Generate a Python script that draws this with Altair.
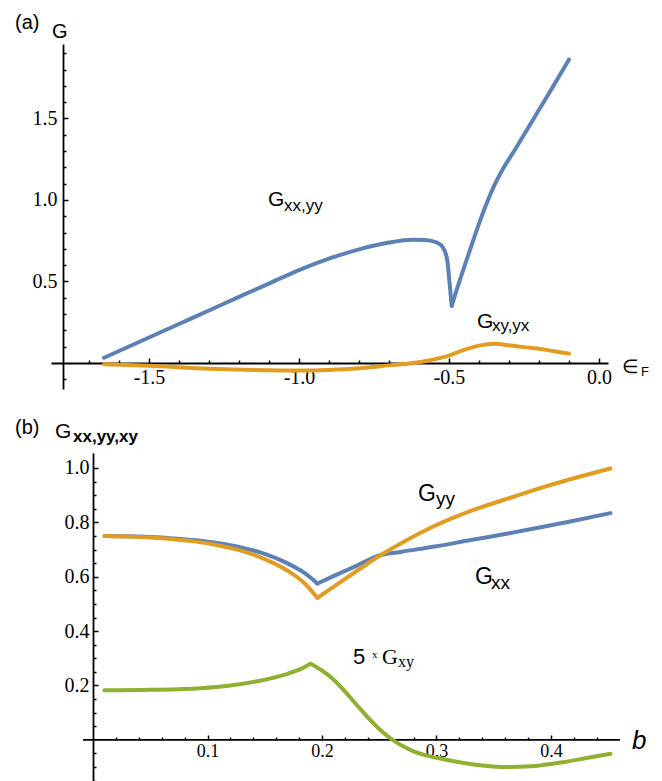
import altair as alt
import pandas as pd

# ---------------- panel (a) data ----------------
a_blue_x = [-1.65, -1.5, -1.4, -1.3, -1.2, -1.1, -1.0, -0.9, -0.8, -0.7, -0.62, -0.58, -0.545, -0.525,
            -0.515, -0.505, -0.498, -0.491, -0.475, -0.46, -0.437, -0.415, -0.393, -0.37, -0.35, -0.33,
            -0.31, -0.283, -0.24, -0.203, -0.15, -0.1]
a_blue_y = [0.032, 0.156, 0.239, 0.322, 0.405, 0.487, 0.570, 0.640, 0.697, 0.739, 0.756, 0.755, 0.742, 0.72,
            0.69, 0.62, 0.49, 0.35, 0.445, 0.53, 0.655, 0.775, 0.89, 1.0, 1.085, 1.158,
            1.222, 1.30, 1.431, 1.544, 1.706, 1.862]
a_blue_kink = -0.491
a_orange_x = [-1.65, -1.5, -1.3, -1.1, -1.0, -0.9, -0.8, -0.7, -0.6, -0.55, -0.5, -0.45, -0.4, -0.35,
              -0.3, -0.25, -0.2, -0.15, -0.1]
a_orange_y = [-0.008, -0.018, -0.035, -0.045, -0.047, -0.043, -0.033, -0.015, 0.004, 0.022, 0.045, 0.08,
              0.106, 0.118, 0.108, 0.097, 0.087, 0.072, 0.057]
a_x_major = [-1.5, -1.0, -0.5, 0.0]
a_x_minor = [-1.7, -1.6, -1.4, -1.3, -1.2, -1.1, -0.9, -0.8, -0.7, -0.6, -0.4, -0.3, -0.2, -0.1]
a_y_major = [0.5, 1.0, 1.5]
a_y_minor = [-0.1, 0.1, 0.2, 0.3, 0.4, 0.6, 0.7, 0.8, 0.9, 1.1, 1.2, 1.3, 1.4, 1.6, 1.7, 1.8, 1.9]

# ---------------- panel (b) data ----------------
b_x = [0.01, 0.03, 0.05, 0.07, 0.09, 0.11, 0.13, 0.15, 0.17, 0.185, 0.196, 0.21, 0.23, 0.25, 0.27,
       0.30, 0.33, 0.36, 0.39, 0.42, 0.452]
b_gxx = [0.75, 0.749, 0.746, 0.741, 0.734, 0.723, 0.707, 0.684, 0.649, 0.613, 0.575, 0.602, 0.640, 0.678,
         0.692, 0.712, 0.735, 0.757, 0.781, 0.806, 0.834]
b_gyy = [0.75, 0.748, 0.744, 0.738, 0.729, 0.715, 0.695, 0.665, 0.622, 0.575, 0.522, 0.563, 0.620, 0.676,
         0.725, 0.790, 0.842, 0.884, 0.925, 0.962, 0.998]
b_kink = 0.196
b_gxy_x = [0.01, 0.05, 0.094, 0.12, 0.153, 0.17, 0.182, 0.19, 0.2, 0.21, 0.22, 0.23, 0.24, 0.25, 0.26,
           0.27, 0.28, 0.29, 0.3, 0.324, 0.34, 0.36, 0.383, 0.411, 0.432, 0.452]
b_gxy_y = [0.182, 0.184, 0.19, 0.2, 0.224, 0.243, 0.262, 0.28, 0.255, 0.222, 0.178, 0.13, 0.083, 0.040,
           0.005, -0.022, -0.042, -0.056, -0.066, -0.085, -0.094, -0.1, -0.097, -0.082, -0.066, -0.051]
b_gxy_kink = 0.19
b_x_major = [0.1, 0.2, 0.3, 0.4]
b_x_minor = [0.02, 0.04, 0.06, 0.08, 0.12, 0.14, 0.16, 0.18, 0.22, 0.24, 0.26, 0.28, 0.32, 0.34, 0.36,
             0.38, 0.42, 0.44]
b_y_major = [0.2, 0.4, 0.6, 0.8, 1.0]
b_y_minor = [-0.15, -0.1, -0.05, 0.05, 0.1, 0.15, 0.25, 0.3, 0.35, 0.45, 0.5, 0.55, 0.65, 0.7, 0.75,
             0.85, 0.9, 0.95]

BLUE = "#5E81B5"
ORANGE = "#E19C24"
GREEN = "#8FB032"
SANS = "Liberation Sans"
SERIF = "Liberation Serif"
LBL = "datum.value < 0 ? '-' + format(-datum.value, '.1f') : format(datum.value, '.1f')"


def lbl_axis(orient, offset, values, size, pad, domain):
    return alt.Axis(orient=orient, offset=offset, values=values, ticks=False, domain=domain,
                    domainColor="black", domainWidth=1.8, labelFont=SERIF, labelFontSize=size,
                    labelColor="black", labelPadding=pad, labelExpr=LBL, labelFlush=False,
                    labelOverlap=False, labelBound=False, grid=False, title=None)


def tick_axis(orient, offset, values, size):
    return alt.Axis(orient=orient, offset=offset, values=values, ticks=True, tickSize=size,
                    tickWidth=1.5, tickColor="black", labels=False, domain=False, grid=False,
                    title=None)


def curve(xv, yv, color, xs, ys, kink):
    # two smooth pieces that meet at the sharp corner
    seg = ["a" if x <= kink else "b" for x in xv]
    df = pd.DataFrame({"x": xv, "y": yv, "s": seg})
    corner = df[df["x"] == kink].copy()
    corner["s"] = "b"
    df = pd.concat([df, corner], ignore_index=True)
    return alt.Chart(df).mark_line(color=color, strokeWidth=4, interpolate="monotone",
                                   strokeCap="round").encode(
        x=alt.X("x:Q", scale=xs, axis=None), y=alt.Y("y:Q", scale=ys, axis=None),
        detail="s:N")


def axis_layer(px, py, xs, ys, xaxis=None, yaxis=None):
    df = pd.DataFrame({"x": [px], "y": [py]})
    return alt.Chart(df).mark_point(opacity=0).encode(
        x=alt.X("x:Q", scale=xs, axis=xaxis), y=alt.Y("y:Q", scale=ys, axis=yaxis))


def dtext(x, y, text, xs, ys, font=SANS, size=20, dx=0, dy=0, weight="normal", style="normal"):
    df = pd.DataFrame({"x": [x], "y": [y], "t": [text]})
    return alt.Chart(df).mark_text(align="left", baseline="alphabetic", font=font, fontSize=size,
                                   fontWeight=weight, fontStyle=style, dx=dx, dy=dy,
                                   color="black").encode(
        x=alt.X("x:Q", scale=xs, axis=None), y=alt.Y("y:Q", scale=ys, axis=None), text="t:N")


def ptext(px, py, text, font=SANS, size=20, weight="normal", style="normal"):
    df = pd.DataFrame({"t": [text]})
    return alt.Chart(df).mark_text(align="left", baseline="alphabetic", font=font, fontSize=size,
                                   fontWeight=weight, fontStyle=style, color="black").encode(
        x=alt.value(px), y=alt.value(py), text="t:N")


# ---------------- panel (a) ----------------
WA, HA = 557, 345
xs_a = alt.Scale(domain=[-1.8267, 0.03], nice=False, zero=False)
ys_a = alt.Scale(domain=[-0.16, 1.957], nice=False, zero=False)

top = alt.layer(
    axis_layer(-1.0, 0.5, xs_a, ys_a, xaxis=lbl_axis("bottom", -26, a_x_major, 20, 4, True)),
    axis_layer(-1.0, 0.5, xs_a, ys_a, xaxis=tick_axis("top", -319, a_x_major, 5)),
    axis_layer(-1.0, 0.5, xs_a, ys_a, xaxis=tick_axis("top", -319, a_x_minor, 3)),
    axis_layer(-1.0, 0.5, xs_a, ys_a, yaxis=lbl_axis("left", -12, a_y_major, 20, 6, True)),
    axis_layer(-1.0, 0.5, xs_a, ys_a, yaxis=tick_axis("right", -545, a_y_major, 5)),
    axis_layer(-1.0, 0.5, xs_a, ys_a, yaxis=tick_axis("right", -545, a_y_minor, 3)),
    curve(a_blue_x, a_blue_y, BLUE, xs_a, ys_a, a_blue_kink),
    curve(a_orange_x, a_orange_y, ORANGE, xs_a, ys_a, 99),
    dtext(-1.103, 0.963, "G", xs_a, ys_a, size=21),
    dtext(-1.103, 0.963, "xx,yy", xs_a, ys_a, size=17, dx=16, dy=5),
    dtext(-0.407, 0.215, "G", xs_a, ys_a, size=21),
    dtext(-0.407, 0.215, "xy,yx", xs_a, ys_a, size=17, dx=15, dy=3),
    ptext(-36, -15, "(a)", size=20),
    ptext(1, -6, "G", size=20),
    ptext(571, 329, "\u2208", font="DejaVu Sans", size=19),
    ptext(590, 332, "F", size=13),
).resolve_axis(x="independent", y="independent").properties(width=WA, height=HA)

# ---------------- panel (b) ----------------
WB, HB = 569, 329
xs_b = alt.Scale(domain=[-0.0367, 0.4603], nice=False, zero=False)
ys_b = alt.Scale(domain=[-0.155, 1.055], nice=False, zero=False)

xaxis_line = alt.Chart(pd.DataFrame({"x": [-0.0087], "x2": [0.4603], "y": [0.0]})).mark_rule(
    color="black", strokeWidth=1.8).encode(
    x=alt.X("x:Q", scale=xs_b, axis=None), x2="x2:Q", y=alt.Y("y:Q", scale=ys_b, axis=None))

bottom = alt.layer(
    axis_layer(0.2, 0.5, xs_b, ys_b, xaxis=lbl_axis("bottom", -42, b_x_major, 18, 2, False)),
    axis_layer(0.2, 0.5, xs_b, ys_b, xaxis=tick_axis("top", -287, b_x_major, 5)),
    axis_layer(0.2, 0.5, xs_b, ys_b, xaxis=tick_axis("top", -287, b_x_minor, 3)),
    axis_layer(0.2, 0.5, xs_b, ys_b, yaxis=lbl_axis("left", -42, b_y_major, 20, 4, True)),
    axis_layer(0.2, 0.5, xs_b, ys_b, yaxis=tick_axis("right", -527, b_y_major, 5)),
    axis_layer(0.2, 0.5, xs_b, ys_b, yaxis=tick_axis("right", -527, b_y_minor, 3)),
    xaxis_line,
    curve(b_x, b_gxx, BLUE, xs_b, ys_b, b_kink),
    curve(b_x, b_gyy, ORANGE, xs_b, ys_b, b_kink),
    curve(b_gxy_x, b_gxy_y, GREEN, xs_b, ys_b, b_gxy_kink),
    dtext(0.2838, 0.879, "G", xs_b, ys_b, size=23),
    dtext(0.2838, 0.879, "yy", xs_b, ys_b, size=19, dx=18, dy=4),
    dtext(0.3336, 0.5735, "G", xs_b, ys_b, size=23),
    dtext(0.3336, 0.5735, "xx", xs_b, ys_b, size=19, dx=16, dy=5),
    dtext(0.227, 0.279, "5", xs_b, ys_b, size=22),
    dtext(0.227, 0.279, "x", xs_b, ys_b, font=SERIF, size=11, dx=19, dy=-6),
    dtext(0.227, 0.279, "G", xs_b, ys_b, font=SERIF, size=22, dx=29),
    dtext(0.227, 0.279, "xy", xs_b, ys_b, font=SERIF, size=16, dx=45, dy=3),
    ptext(-36, -19, "(b)", size=20),
    ptext(4, -15, "G", size=21),
    ptext(22, -11, "xx,yy,xy", size=17, weight="bold"),
    ptext(581, 296, "b", size=26, style="italic"),
).resolve_axis(x="independent", y="independent").properties(width=WB, height=HB)

chart = alt.vconcat(top, bottom, spacing=64, bounds="flush").properties(
    padding={"left": 6, "top": 4, "right": 0, "bottom": 0}
).configure_view(stroke="transparent")

chart.save("out.html", embed_options={"renderer": "svg", "actions": False})
